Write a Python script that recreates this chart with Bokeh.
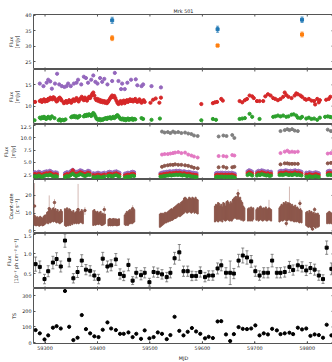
import math
from bokeh.plotting import figure
from bokeh.layouts import column
from bokeh.models import Range1d, LinearAxis, FixedTicker, Whisker, ColumnDataSource, TeeHead
from bokeh.embed import file_html
from bokeh.resources import INLINE

# ---------------- data ----------------
x_ticks = [59300, 59400, 59500, 59600, 59700, 59800]
x_tick_labels = ["59300", "59400", "59500", "59600", "59700", "59800"]

# panel 1 (radio)
radio_mjd = [59428, 59629, 59790]
radio_a = [38.4, 35.5, 38.6]
radio_a_err = [1.0, 1.0, 0.9]
radio_b = [32.6, 30.2, 33.8]
radio_b_err = [0.8, 0.4, 0.8]
p1_ticks = [25, 30, 35, 40]
p1_labels = ["25", "30", "35", "40"]

# panel 2 (optical)
purple_mjd = [59290, 59297, 59303, 59306, 59310, 59313, 59319, 59323, 59327, 59332,
              59337, 59341, 59344, 59349, 59355, 59360, 59363, 59369, 59374, 59378,
              59382, 59388, 59392, 59396, 59400, 59405, 59409, 59413, 59419, 59428,
              59433, 59440, 59445, 59447, 59452, 59457, 59464, 59473, 59476, 59484,
              59487, 59503, 59521]
purple_val = [15.3, 14.7, 15.5, 16.2, 15.8, 14.1, 15.3, 17.6, 15.1, 14.7,
              14.5, 14.7, 15.3, 14.7, 15.3, 15.5, 16.2, 15.1, 16.9, 16.6,
              15.5, 16.2, 17.2, 15.7, 15.3, 16.6, 15.7, 16.4, 15.1, 15.9,
              17.8, 15.9, 14.0, 15.3, 14.0, 15.5, 16.2, 16.3, 14.9, 14.7,
              15.1, 14.7, 14.4]
red_mjd = [59281, 59290, 59292, 59294, 59296, 59298, 59300, 59302, 59304, 59306,
           59308, 59310, 59312, 59314, 59316, 59318, 59320, 59322, 59324, 59326,
           59328, 59330, 59332, 59336, 59338, 59340, 59342, 59344, 59346, 59348,
           59350, 59352, 59354, 59356, 59358, 59360, 59362, 59364, 59366, 59368,
           59370, 59372, 59374, 59376, 59378, 59380, 59382, 59384, 59386, 59388,
           59390, 59392, 59394, 59396, 59398, 59400, 59402, 59404, 59406, 59408,
           59410, 59412, 59414, 59416, 59418, 59420, 59422, 59424, 59426, 59428,
           59430, 59432, 59434, 59436, 59438, 59440, 59442, 59444, 59446, 59448,
           59450, 59452, 59454, 59456, 59458, 59460, 59462, 59464, 59466, 59468,
           59470, 59472, 59474, 59476, 59478, 59480, 59482, 59484, 59486, 59488,
           59490,
           59501, 59506, 59511, 59518, 59521, 59598, 59620, 59624, 59628, 59636,
           59639, 59671, 59676, 59681, 59685, 59690, 59695, 59698, 59704, 59709,
           59716, 59720, 59725, 59730, 59735, 59739, 59744, 59749, 59754, 59757,
           59760, 59764, 59770, 59776, 59779, 59782, 59787, 59790, 59795, 59798,
           59803, 59808, 59813, 59815, 59819, 59822, 59824, 59836, 59841, 59844]
red_val = [11.0, 11.2, 11.4, 11.0, 11.3, 11.6, 11.1, 11.4, 11.2, 11.7,
           11.5, 12.0, 11.8, 11.6, 12.1, 11.9, 11.5, 11.1, 11.3, 11.8,
           12.0, 11.7, 11.3, 10.7, 10.9, 11.2, 10.8, 11.0, 11.4, 11.1,
           10.8, 11.3, 11.6, 11.2, 11.5, 11.9, 11.4, 11.1, 11.6, 11.8,
           12.2, 11.7, 11.4, 12.0, 11.6, 11.3, 11.8, 12.2, 11.9, 12.4,
           12.9, 13.2, 12.5, 11.8, 11.4, 11.7, 11.2, 11.5, 11.0, 11.3,
           10.9, 11.2, 10.8, 11.1, 10.7, 11.0, 11.4, 11.8, 12.2, 12.5,
           12.1, 12.4, 11.9, 11.3, 10.8, 10.5, 10.9, 11.2, 10.6, 11.0,
           11.3, 10.7, 11.1, 11.4, 11.0, 11.3, 11.6, 11.2, 11.5, 11.1,
           11.4, 11.7, 11.2, 11.0, 11.3, 11.6, 11.1, 10.8, 11.2, 11.4,
           11.0,
           10.8, 11.5, 11.8, 10.8, 12.0, 10.5, 10.7, 10.9, 11.0, 11.7,
           11.3, 11.2, 10.9, 11.4, 11.7, 12.5, 12.3, 11.9, 11.2, 11.2,
           11.2, 12.3, 12.8, 12.5, 11.9, 11.7, 11.4, 11.7, 12.2, 13.2,
           12.6, 12.2, 11.9, 12.5, 13.0, 12.8, 12.5, 12.2, 11.7, 11.5,
           11.7, 11.3, 11.2, 10.4, 11.7, 10.9, 11.4, 11.5, 11.7, 12.2]
green_mjd = [59280, 59290, 59292, 59294, 59296, 59298, 59300, 59302, 59304, 59306,
             59308, 59310, 59313, 59318, 59326, 59328, 59330, 59333, 59336, 59339,
             59350, 59352, 59354, 59356, 59358, 59360, 59362, 59364, 59366, 59374,
             59376, 59378, 59380, 59382, 59384, 59386, 59388, 59390, 59392, 59394,
             59396, 59398, 59400, 59402, 59404, 59406, 59408, 59410, 59412, 59414,
             59416, 59418, 59420, 59422, 59424, 59426, 59428, 59430, 59432, 59434,
             59436, 59438, 59440, 59442, 59444, 59446, 59448, 59450, 59452, 59454,
             59456, 59458, 59460, 59462, 59464, 59466, 59468, 59470, 59472, 59484,
             59487, 59503, 59519, 59598, 59620, 59626, 59671, 59676, 59681, 59690,
             59695, 59709, 59735, 59739, 59744, 59749, 59754, 59760, 59764, 59770,
             59774, 59779, 59782, 59787, 59790, 59798, 59803, 59808, 59813, 59819,
             59824, 59834, 59839, 59843, 59846]
green_val = [6.7, 7.3, 7.1, 7.4, 7.2, 7.5, 7.3, 7.0, 7.2, 7.5,
             7.3, 7.1, 7.6, 7.2, 6.7, 6.9, 6.6, 6.8, 6.7, 6.9,
             7.4, 7.6, 7.5, 7.7, 7.4, 7.6, 7.3, 7.5, 7.7, 7.6,
             7.9, 7.7, 8.0, 7.8, 8.1, 7.9, 7.7, 8.0, 8.4, 8.1,
             7.6, 7.1, 6.9, 6.8, 7.0, 6.7, 6.9, 6.8, 7.0, 7.1,
             7.2, 7.0, 7.3, 7.2, 7.4, 7.1, 7.3, 7.5, 7.2, 7.4,
             7.7, 7.9, 7.6, 7.3, 7.0, 6.9, 7.1, 6.8, 7.0, 6.7,
             6.9, 7.1, 6.8, 7.0, 6.9, 7.1, 6.8, 7.0, 6.9, 7.2,
             7.0, 6.8, 7.1, 6.7, 7.0, 6.8, 7.0, 7.1, 7.2, 8.2,
             7.5, 7.0, 7.5, 7.6, 7.8, 7.6, 7.8, 7.5, 7.6, 8.0,
             8.1, 7.8, 7.3, 7.2, 7.5, 7.1, 7.3, 7.0, 7.1, 6.8,
             7.3, 7.5, 7.6, 7.5, 7.4]
p2_ticks = [10, 15]
p2_labels = ["10", "15"]

# panel 3 (UV / optical photometry)
uv_mjd = [59279, 59281, 59283, 59285, 59288, 59290, 59292, 59295, 59297, 59300, 59303, 59306, 59309, 59311, 59314, 59317, 59320, 59323,
          59338, 59340, 59342, 59345, 59348, 59350, 59353, 59356, 59359, 59361, 59364, 59367, 59370, 59373, 59376, 59379, 59382, 59385,
          59392, 59395, 59398, 59401, 59404, 59407, 59410, 59413, 59420, 59423, 59426, 59429, 59432, 59436, 59439, 59442,
          59452, 59455, 59458, 59461, 59464, 59467, 59470,
          59520, 59523, 59526, 59529, 59532, 59535, 59538, 59541, 59544, 59547, 59550, 59553, 59556, 59559, 59562, 59565, 59568, 59571, 59574, 59577, 59580, 59583, 59586, 59589,
          59626, 59629, 59632, 59635, 59638, 59641, 59644, 59647, 59650, 59653, 59656, 59659, 59662,
          59686, 59689, 59692, 59695,
          59704, 59707, 59710, 59713, 59716, 59719, 59722, 59725, 59728, 59731,
          59747, 59750, 59753, 59756, 59759, 59762, 59765, 59768, 59771, 59774, 59777, 59780, 59783, 59786, 59789,
          59798, 59801, 59804, 59807, 59810, 59813, 59816, 59819, 59822,
          59839, 59842, 59845]
uv_purple = [2.9, 3.0, 2.8, 2.9, 3.1, 3.0, 2.9, 2.8, 3.0, 3.1, 3.2, 3.1, 3.3, 3.2, 3.0, 2.9, 3.0, 2.9,
             2.8, 2.9, 3.0, 2.9, 3.1, 3.3, 3.5, 3.2, 3.0, 3.1, 3.2, 3.4, 3.3, 3.1, 3.0, 3.1, 3.3, 3.2,
             2.8, 2.7, 2.8, 2.9, 2.8, 2.7, 2.8, 2.9, 3.0, 3.1, 3.0, 2.9, 3.1, 3.2, 3.0, 2.9,
             2.7, 2.8, 2.9, 2.8, 3.0, 3.1, 3.0,
             2.8, 2.9, 3.0, 3.0, 3.1, 3.1, 3.2, 3.1, 3.2, 3.2, 3.3, 3.2, 3.3, 3.2, 3.1, 3.2, 3.1, 3.0, 3.1, 3.0, 2.9, 2.9, 2.8, 2.8,
             2.8, 2.9, 2.8, 2.9, 2.9, 2.8, 2.9, 2.8, 2.9, 2.8, 2.9, 2.8, 2.7,
             3.2, 3.4, 3.3, 3.1,
             3.1, 3.3, 3.2, 3.4, 3.3, 3.2, 3.1, 3.2, 3.0, 3.1,
             3.2, 3.3, 3.2, 3.3, 3.4, 3.3, 3.2, 3.3, 3.2, 3.3, 3.4, 3.2, 3.3, 3.2, 3.1,
             2.9, 2.8, 3.0, 2.9, 2.8, 2.9, 3.0, 2.9, 2.8,
             3.2, 3.3, 3.2]
uv_red = [2.6, 2.6, 2.5, 2.5, 2.7, 2.6, 2.5, 2.4, 2.6, 2.7, 2.8, 2.7, 2.9, 2.8, 2.6, 2.5, 2.6, 2.5,
          2.4, 2.5, 2.6, 2.5, 2.7, 2.9, 3.4, 2.8, 2.6, 2.7, 2.8, 3.0, 2.9, 2.7, 2.6, 2.7, 2.9, 2.8,
          2.4, 2.3, 2.4, 2.5, 2.4, 2.3, 2.4, 2.5, 2.6, 2.7, 2.6, 2.5, 2.7, 2.8, 2.6, 2.5,
          2.3, 2.4, 2.5, 2.4, 2.6, 2.7, 2.6,
          2.5, 2.5, 2.6, 2.6, 2.7, 2.7, 2.8, 2.7, 2.8, 2.8, 2.9, 2.8, 2.9, 2.8, 2.7, 2.8, 2.7, 2.6, 2.7, 2.6, 2.5, 2.5, 2.4, 2.4,
          2.4, 2.5, 2.4, 2.5, 2.5, 2.4, 2.5, 2.4, 2.5, 2.4, 2.5, 2.4, 2.3,
          2.8, 3.0, 2.9, 2.7,
          2.7, 2.9, 2.8, 3.0, 2.9, 2.8, 2.7, 2.8, 2.6, 2.7,
          2.8, 2.9, 2.8, 2.9, 3.0, 2.9, 2.8, 2.9, 2.8, 2.9, 3.0, 2.8, 2.9, 2.8, 2.7,
          2.5, 2.4, 2.6, 2.5, 2.4, 2.5, 2.6, 2.5, 2.4,
          2.8, 2.9, 2.8]
uv_green = [2.2, 2.2, 2.1, 2.1, 2.3, 2.2, 2.1, 2.0, 2.2, 2.3, 2.4, 2.3, 2.5, 2.4, 2.2, 2.1, 2.2, 2.1,
            2.0, 2.1, 2.2, 2.1, 2.3, 2.5, 2.7, 2.4, 2.2, 2.3, 2.4, 2.6, 2.5, 2.3, 2.2, 2.3, 2.5, 2.4,
            2.0, 1.9, 2.0, 2.1, 2.0, 1.9, 2.0, 2.1, 2.2, 2.3, 2.2, 2.1, 2.3, 2.4, 2.2, 2.1,
            1.9, 2.0, 2.1, 2.0, 2.2, 2.3, 2.2,
            2.1, 2.1, 2.2, 2.2, 2.3, 2.3, 2.4, 2.3, 2.4, 2.4, 2.5, 2.4, 2.5, 2.4, 2.3, 2.4, 2.3, 2.2, 2.3, 2.2, 2.1, 2.1, 2.0, 2.0,
            2.0, 2.1, 2.0, 2.1, 2.1, 2.0, 2.1, 2.0, 2.1, 2.0, 2.1, 2.0, 1.9,
            2.4, 2.6, 2.5, 2.3,
            2.3, 2.5, 2.4, 2.6, 2.5, 2.4, 2.3, 2.4, 2.2, 2.3,
            2.4, 2.5, 2.4, 2.5, 2.6, 2.5, 2.4, 2.5, 2.4, 2.5, 2.6, 2.4, 2.5, 2.4, 2.3,
            2.1, 2.0, 2.2, 2.1, 2.0, 2.1, 2.2, 2.1, 2.0,
            2.4, 2.5, 2.4]
opt_mjd = [59523, 59528, 59534, 59539, 59544, 59548, 59554, 59560, 59567, 59573, 59579, 59584, 59591,
           59631, 59640, 59646, 59657, 59661,
           59749, 59757, 59762, 59766, 59771, 59776, 59782,
           59839, 59845]
opt_gray = [11.3, 11.1, 11.2, 11.0, 11.3, 11.1, 11.2, 11.0, 11.1, 10.9, 10.8, 10.5, 10.4,
            10.3, 10.5, 10.4, 10.6, 10.0,
            11.4, 11.6, 11.8, 11.6, 11.8, 11.5, 11.4,
            11.7, 11.4]
opt_pink = [6.6, 6.7, 6.7, 6.8, 6.9, 7.0, 7.1, 6.9, 7.0, 6.6, 6.4, 6.2, 6.0,
            6.3, 6.3, 6.2, 6.5, 6.4,
            6.9, 7.2, 7.4, 7.1, 7.2, 7.1, 7.2,
            6.8, 6.9]
opt_brown = [4.1, 4.3, 4.4, 4.5, 4.5, 4.6, 4.5, 4.5, 4.4, 4.3, 4.1, 3.9, 3.8,
             4.0, 4.1, 3.9, 4.0, 4.1,
             4.6, 4.8, 4.8, 4.7, 4.7, 4.7, 4.7,
             4.8, 4.9]
p3_ticks = [2.5, 5.0, 7.5, 10.0, 12.5]
p3_labels = ["2.5", "5.0", "7.5", "10.0", "12.5"]

# panel 4 (X-ray count rate): per-bin spread of the dense light curve
cr_mjd = [59279, 59281, 59283, 59285, 59287, 59289, 59291, 59293, 59295, 59297, 59299, 59301,
          59304, 59306, 59308, 59310, 59312, 59314, 59316, 59318, 59320, 59322, 59324, 59326, 59328, 59330, 59332,
          59338, 59340, 59342, 59344, 59346, 59348, 59350, 59352, 59354, 59356, 59358, 59360, 59362, 59364, 59366, 59368, 59370, 59372,
          59392, 59394, 59396, 59398, 59400, 59402, 59404, 59406, 59408, 59410, 59412, 59414,
          59421, 59423, 59425, 59427, 59429, 59431, 59433, 59435, 59437, 59439, 59441,
          59452, 59454, 59456, 59458, 59460, 59462, 59464, 59466, 59468, 59470,
          59519, 59521, 59523, 59525, 59527, 59529, 59531, 59533, 59535, 59537, 59539, 59541, 59543, 59545, 59547, 59549, 59551, 59553, 59555,
          59557, 59559, 59561, 59563, 59565, 59567, 59569, 59571, 59573, 59575, 59577, 59579, 59581, 59583, 59585, 59587, 59589, 59591,
          59624, 59626, 59628, 59630, 59632, 59634, 59636, 59638, 59640, 59642, 59644, 59646, 59648, 59650, 59652,
          59654, 59656, 59658, 59660, 59662, 59664, 59666, 59668, 59670, 59672, 59674, 59676, 59678, 59680,
          59687, 59689, 59691, 59693, 59695, 59697, 59703, 59705, 59707, 59709, 59711, 59713, 59715, 59717, 59719, 59721, 59723, 59725, 59727, 59729, 59731,
          59747, 59749, 59751, 59753, 59755, 59757, 59759, 59761, 59763, 59765, 59767, 59769, 59771, 59773, 59775, 59777, 59779, 59781, 59783, 59785, 59787, 59789,
          59798, 59800, 59802, 59804, 59806, 59808, 59810, 59812, 59814, 59816, 59818, 59820, 59822,
          59838, 59840, 59842, 59844, 59846]
cr_lo = [3.5, 3.0, 2.8, 3.2, 3.0, 2.6, 3.0, 3.4, 2.8, 3.0, 3.5, 4.0,
         4.5, 4.0, 5.0, 4.5, 5.0, 5.5, 5.0, 5.5, 5.0, 4.5, 5.0, 4.5, 4.0, 4.5, 5.0,
         3.0, 2.5, 3.0, 2.8, 3.5, 3.0, 4.0, 3.5, 4.5, 4.0, 4.5, 4.0, 4.5, 4.0, 4.5, 5.0, 4.5, 4.0,
         3.0, 3.5, 3.2, 3.5, 3.8, 3.5, 4.0, 3.5, 3.0, 3.2, 3.5, 4.0,
         2.8, 3.0, 2.8, 3.0, 2.8, 3.0, 3.2, 3.0, 2.8, 3.0, 3.2,
         3.5, 3.0, 3.5, 3.0, 3.8, 4.0, 4.5, 4.0, 4.5, 5.0,
         2.0, 2.5, 3.0, 3.5, 4.0, 4.5, 4.5, 5.0, 5.0, 5.5, 5.5, 6.0, 6.0, 6.5, 7.0, 7.0, 7.5, 8.0, 8.5,
         8.0, 8.5, 9.0, 9.5, 10.0, 11.0, 10.5, 10.0, 10.5, 11.0, 10.5, 10.0, 10.5, 11.0, 10.0, 10.5, 10.0, 9.5,
         5.0, 5.5, 6.0, 5.0, 6.0, 5.5, 6.0, 5.0, 6.5, 6.0, 5.5, 6.0, 6.5, 6.0, 5.5,
         6.0, 5.5, 6.5, 7.0, 7.5, 7.0, 6.5, 7.0, 6.5, 7.0, 6.0, 6.5, 5.5, 6.0,
         5.5, 6.0, 5.5, 6.0, 5.5, 6.5, 6.0, 6.5, 5.5, 6.0, 6.5, 6.0, 5.5, 6.0, 6.5, 6.0, 5.5, 6.0, 6.5, 6.0, 5.5,
         5.0, 5.5, 6.0, 5.5, 6.0, 6.5, 6.0, 5.5, 6.0, 6.5, 6.0, 5.5, 6.0, 5.5, 5.0, 5.5, 5.0, 5.5, 5.0, 4.5, 5.0, 4.5,
         3.0, 2.5, 2.0, 2.5, 2.0, 1.5, 2.0, 2.5, 2.0, 1.5, 2.5, 2.0, 2.5,
         4.0, 4.5, 4.0, 4.5, 4.0]
cr_hi = [9.0, 8.5, 7.5, 8.0, 7.0, 7.8, 8.2, 7.5, 7.0, 8.0, 8.8, 9.0,
         10.5, 11.0, 12.0, 12.5, 11.5, 12.5, 13.0, 12.0, 12.5, 11.0, 12.0, 10.5, 11.0, 12.0, 11.0,
         12.5, 12.0, 13.0, 11.5, 12.5, 12.0, 11.0, 10.5, 11.5, 10.0, 10.5, 11.0, 12.0, 11.5, 10.5, 11.0, 12.0, 11.0,
         11.5, 12.0, 11.0, 10.5, 11.0, 10.0, 10.5, 11.0, 9.5, 10.0, 9.0, 9.5,
         6.5, 7.0, 6.8, 6.5, 6.8, 7.0, 6.5, 6.8, 6.5, 6.5, 6.8,
         9.0, 10.0, 11.0, 10.5, 11.5, 12.0, 11.0, 12.5, 11.5, 12.0,
         9.5, 10.0, 9.5, 10.0, 9.5, 10.5, 10.0, 10.5, 11.0, 11.5, 12.0, 12.5, 12.0, 13.0, 13.5, 14.0, 14.5, 15.0, 15.5,
         15.0, 16.0, 16.5, 17.0, 18.5, 19.0, 18.5, 17.5, 18.0, 19.0, 18.5, 18.0, 19.0, 18.5, 18.0, 19.0, 18.0, 17.5,
         14.0, 15.0, 14.5, 16.0, 15.5, 14.0, 15.0, 13.5, 16.0, 15.5, 14.0, 16.5, 17.0, 16.0, 15.0,
         16.5, 15.5, 17.5, 18.0, 19.0, 19.5, 18.0, 20.0, 18.5, 19.0, 17.0, 16.0, 14.0, 13.0,
         12.5, 13.0, 12.0, 13.5, 12.5, 13.0, 12.0, 13.0, 12.5, 13.5, 14.0, 13.0, 12.5, 13.0, 12.5, 13.5, 12.0, 12.5, 13.0, 12.5, 12.0,
         13.0, 14.0, 15.0, 14.5, 16.0, 15.5, 16.5, 15.0, 16.0, 15.5, 14.5, 14.0, 15.0, 14.0, 13.5, 14.5, 13.0, 13.5, 12.5, 12.0, 12.5, 11.5,
         10.5, 11.0, 10.0, 11.5, 10.5, 11.0, 10.0, 10.5, 9.5, 10.0, 9.5, 10.0, 9.0,
         10.0, 10.5, 11.0, 10.5, 10.0]
spike_mjd = [59280, 59308, 59318, 59363, 59376, 59413, 59467, 59660, 59668, 59727, 59760, 59766, 59786, 59810, 59814]
spike_val = [14.0, 12.5, 16.0, 12.0, 11.5, 12.0, 12.5, 17.5, 21.0, 12.0, 4.2, 15.0, 15.5, 1.0, 12.0]
spike_lo = [9.0, 9.0, 13.0, 8.0, 9.0, 9.0, 10.0, 15.0, 18.0, 9.0, 2.5, 10.0, 13.0, 0.2, 10.0]
spike_hi = [27.0, 20.0, 18.0, 26.5, 13.5, 14.0, 14.5, 19.0, 23.5, 17.5, 6.0, 25.0, 17.5, 2.0, 13.5]
p4_ticks = [0, 10, 20]
p4_labels = ["0", "10", "20"]

# panel 5 / 6 (gamma rays)
lat_mjd = [59282, 59290, 59299, 59306, 59315, 59322, 59330, 59338, 59346, 59354,
           59362, 59370, 59378, 59386, 59394, 59402, 59410, 59419, 59426, 59435,
           59443, 59450, 59459, 59467, 59474, 59483, 59490, 59499, 59507, 59515,
           59523, 59532, 59539, 59547, 59556, 59564, 59572, 59580, 59588, 59596,
           59605, 59612, 59620, 59629, 59636, 59645, 59653, 59660, 59669, 59677,
           59685, 59693, 59701, 59709, 59717, 59725, 59733, 59742, 59749, 59757,
           59766, 59773, 59782, 59790, 59798, 59806, 59814, 59822, 59830, 59837,
           59846]
lat_flux = [0.74, 0.67, 0.36, 0.56, 0.78, 0.87, 0.68, 1.34, 0.85, 0.38,
            0.54, 0.83, 0.60, 0.57, 0.45, 0.36, 0.88, 0.68, 0.71, 0.86,
            0.49, 0.44, 0.72, 0.32, 0.52, 0.46, 0.52, 0.28, 0.54, 0.52,
            0.48, 0.41, 0.52, 0.89, 1.04, 0.56, 0.56, 0.44, 0.44, 0.54,
            0.41, 0.45, 0.45, 0.63, 0.71, 0.52, 0.52, 0.50, 0.83, 0.96,
            0.91, 0.81, 0.56, 0.45, 0.52, 0.52, 0.83, 0.52, 0.52, 0.54,
            0.67, 0.59, 0.71, 0.67, 0.58, 0.64, 0.60, 0.45, 0.36, 1.16,
            0.62]
lat_err = [0.18, 0.15, 0.12, 0.14, 0.16, 0.16, 0.14, 0.17, 0.18, 0.12,
           0.14, 0.15, 0.13, 0.13, 0.12, 0.12, 0.16, 0.14, 0.14, 0.15,
           0.13, 0.12, 0.15, 0.10, 0.13, 0.12, 0.13, 0.10, 0.13, 0.12,
           0.12, 0.12, 0.13, 0.15, 0.20, 0.13, 0.13, 0.12, 0.11, 0.13,
           0.12, 0.12, 0.12, 0.14, 0.14, 0.13, 0.30, 0.13, 0.16, 0.19,
           0.17, 0.15, 0.13, 0.12, 0.13, 0.13, 0.16, 0.13, 0.13, 0.13,
           0.14, 0.13, 0.14, 0.13, 0.13, 0.14, 0.14, 0.12, 0.11, 0.17,
           0.15]
lat_ts = [80, 59, 20, 46, 95, 105, 90, 330, 101, 16,
          31, 176, 86, 59, 40, 35, 82, 129, 90, 80,
          56, 56, 65, 35, 56, 24, 78, 27, 35, 65,
          56, 22, 48, 165, 75, 46, 69, 93, 71, 56,
          27, 37, 29, 135, 137, 52, 10, 54, 99, 88,
          86, 90, 110, 46, 59, 52, 88, 78, 54, 59,
          63, 54, 95, 84, 90, 43, 52, 48, 31, 114,
          46]
p5_ticks = [0.5, 1.0, 1.5]
p5_labels = ["0.5", "1.0", "1.5"]
p6_ticks = [0, 100, 200, 300]
p6_labels = ["0", "100", "200", "300"]

# ---------------- styling ----------------
FONT = "DejaVu Sans"
FS = "4.9px"
TXT = "#222222"
FRAME = "#555555"
XR = Range1d(59278, 59850)
FW = 300
BL = 28
BR = 4


def labelled_axis(ticks, labels, title):
    ax = LinearAxis(ticker=FixedTicker(ticks=ticks, minor_ticks=[]), axis_label=title)
    ax.major_label_overrides = dict(zip(ticks, labels))
    ax.major_label_text_font = FONT
    ax.major_label_text_font_size = FS
    ax.major_label_text_color = TXT
    ax.major_label_standoff = 2
    ax.major_tick_in = 2
    ax.major_tick_out = 0
    ax.major_tick_line_color = FRAME
    ax.minor_tick_line_color = None
    ax.axis_line_color = None
    ax.axis_label_text_font = FONT
    ax.axis_label_text_font_size = FS
    ax.axis_label_text_font_style = "normal"
    ax.axis_label_text_color = TXT
    ax.axis_label_text_line_height = 1.05
    ax.axis_label_standoff = 2
    return ax


def panel(y_range, yticks, ylabels, ylabel, fh, top=0, bottom=False, title=None):
    p = figure(frame_width=FW, frame_height=fh, x_range=XR, y_range=Range1d(*y_range),
               x_axis_location=None, y_axis_location=None, output_backend="svg",
               toolbar_location=None, min_border_left=BL, min_border_right=BR,
               min_border_top=top, min_border_bottom=0, title=title)
    p.grid.visible = False
    p.outline_line_color = FRAME
    p.outline_line_width = 1
    p.background_fill_color = "white"
    p.border_fill_color = "white"
    p.add_layout(labelled_axis(yticks, ylabels, ylabel), "left")
    if bottom:
        p.add_layout(labelled_axis(x_ticks, x_tick_labels, "MJD"), "below")
    # inward ticks on the top, bottom and right edges of the frame
    nx = len(x_ticks)
    p.scatter(x=x_ticks, y=[y_range[0]] * nx, marker="dash", angle=math.pi / 2, size=4,
              line_color=FRAME, line_width=1)
    p.scatter(x=x_ticks, y=[y_range[1]] * nx, marker="dash", angle=math.pi / 2, size=4,
              line_color=FRAME, line_width=1)
    p.scatter(x=[XR.end] * len(yticks), y=yticks, marker="dash", size=4,
              line_color=FRAME, line_width=1)
    if title is not None:
        p.title.align = "center"
        p.title.text_font = FONT
        p.title.text_font_size = FS
        p.title.text_font_style = "normal"
        p.title.text_color = TXT
        p.title.standoff = 2
    return p


def errorbars(p, x, y, err, color, width=0.7, head=3):
    src = ColumnDataSource(dict(x=x, lo=[a - b for a, b in zip(y, err)], hi=[a + b for a, b in zip(y, err)]))
    w = Whisker(base="x", lower="lo", upper="hi", source=src, dimension="height",
                line_color=color, line_width=width,
                upper_head=TeeHead(size=head, line_color=color, line_width=width),
                lower_head=TeeHead(size=head, line_color=color, line_width=width))
    p.add_layout(w)


# panel 1
p1 = panel((22.4, 40.3), p1_ticks, p1_labels, "Flux\n[mJy]", 55, top=14, title="Mrk 501")
errorbars(p1, radio_mjd, radio_a, radio_a_err, "#1f77b4")
errorbars(p1, radio_mjd, radio_b, radio_b_err, "#ff7f0e")
p1.scatter(radio_mjd, radio_a, marker="square", size=3, color="#1f77b4")
p1.scatter(radio_mjd, radio_b, marker="square", size=3, color="#ff7f0e")

# panel 2
p2 = panel((5.7, 18.6), p2_ticks, p2_labels, "Flux\n[mJy]", 55)
p2.scatter(purple_mjd, purple_val, size=3.2, color="#9467bd")
p2.scatter(red_mjd, red_val, size=3.2, color="#d62728")
p2.scatter(green_mjd, green_val, size=3.2, color="#2ca02c")

# panel 3
p3 = panel((1.5, 12.75), p3_ticks, p3_labels, "Flux\n[mJy]", 55)
p3.scatter(opt_mjd, opt_gray, size=3.0, color="#7f7f7f")
p3.scatter(opt_mjd, opt_pink, size=3.0, color="#e377c2")
p3.scatter(opt_mjd, opt_brown, size=3.0, color="#8c564b")
p3.scatter(uv_mjd, uv_purple, size=3.0, color="#9467bd")
p3.scatter(uv_mjd, uv_red, size=3.0, color="#d62728")
p3.scatter(uv_mjd, uv_green, size=3.0, color="#2ca02c")

# panel 4
p4 = panel((-1.5, 29.0), p4_ticks, p4_labels, "Count-rate\n[c s\u207b\u00b9]", 54)
p4.segment(x0=spike_mjd, y0=spike_lo, x1=spike_mjd, y1=spike_hi, line_color="#c9a7a1", line_width=0.8)
p4.vbar(x=cr_mjd, bottom=cr_lo, top=cr_hi, width=2.1, color="#8c564b", alpha=0.95)
p4.scatter(spike_mjd, spike_val, size=2.5, color="#8c564b")

# panel 5
p5 = panel((0.12, 1.52), p5_ticks, p5_labels,
           "Flux\n[10\u207b\u2077 ph cm\u207b\u00b2 s\u207b\u00b9]", 55)
errorbars(p5, lat_mjd, lat_flux, lat_err, "#5a5a5a")
p5.scatter(lat_mjd, lat_flux, marker="square", size=3, color="black")

# panel 6
p6 = panel((-6, 346), p6_ticks, p6_labels, "TS", 55, bottom=True)
p6.scatter(lat_mjd, lat_ts, size=3.2, color="black")

layout = column(p1, p2, p3, p4, p5, p6, spacing=0)
open("out.html", "w").write(file_html(layout, INLINE, title="Mrk 501"))
